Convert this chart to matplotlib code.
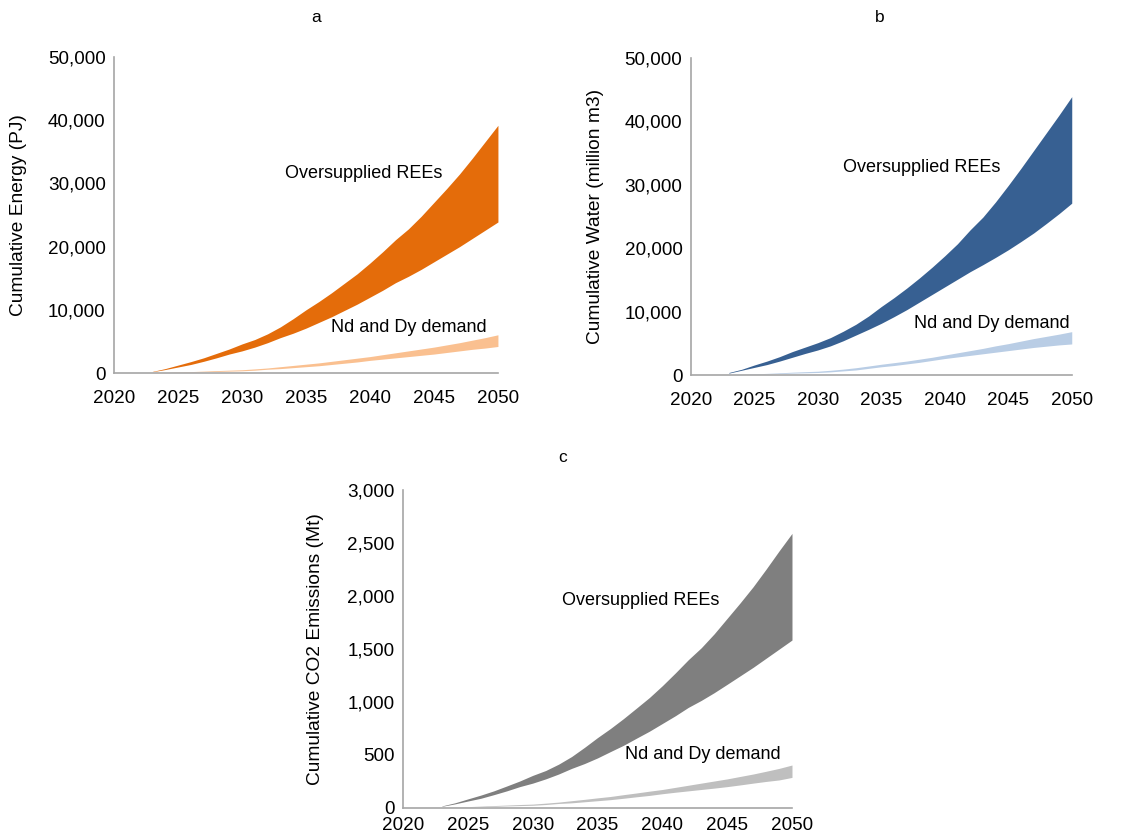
import matplotlib.pyplot as plt
from matplotlib.ticker import FuncFormatter

plt.rcParams['font.family'] = ['Liberation Sans', 'DejaVu Sans']

years = list(range(2023, 2051))

# cumulative energy (PJ)
energy_over_hi = [250, 700, 1250, 1800, 2400, 3100, 3800, 4600, 5300, 6200,
                  7300, 8600, 10000, 11300, 12700, 14200, 15700, 17400, 19200, 21100,
                  22800, 24800, 27000, 29200, 31500, 34000, 36600, 39200]
energy_over_lo = [200, 550, 950, 1350, 1850, 2400, 3000, 3500, 4100, 4800,
                  5600, 6300, 7100, 8000, 8900, 9900, 10900, 12000, 13100, 14300,
                  15300, 16400, 17600, 18800, 20000, 21300, 22600, 23900]
energy_nd_hi = [30, 80, 150, 220, 300, 380, 450, 520, 650, 800,
                1000, 1200, 1400, 1600, 1850, 2100, 2350, 2600, 2900, 3200,
                3500, 3800, 4100, 4450, 4800, 5200, 5600, 6050]
energy_nd_lo = [20, 50, 100, 150, 200, 250, 300, 350, 450, 600,
                700, 850, 1000, 1150, 1350, 1550, 1750, 2000, 2200, 2400,
                2600, 2800, 3000, 3250, 3500, 3750, 3950, 4200]

# cumulative water (million m3)
water_over_hi = [400, 900, 1580, 2200, 2900, 3700, 4400, 5100, 5900, 6900,
                 8000, 9300, 10800, 12200, 13700, 15300, 17000, 18800, 20700, 22900,
                 24900, 27300, 29900, 32600, 35400, 38200, 41000, 43900]
water_over_lo = [300, 750, 1200, 1650, 2200, 2800, 3400, 3950, 4600, 5400,
                 6300, 7200, 8150, 9200, 10300, 11500, 12700, 13900, 15100, 16300,
                 17400, 18550, 19750, 21050, 22400, 23900, 25450, 27100]
water_nd_hi = [40, 100, 180, 260, 350, 450, 530, 600, 750, 930,
               1150, 1420, 1700, 1950, 2200, 2500, 2800, 3150, 3500, 3850,
               4200, 4600, 4950, 5350, 5750, 6100, 6450, 6840]
water_nd_lo = [25, 60, 120, 180, 240, 300, 350, 400, 500, 650,
               800, 1050, 1300, 1500, 1750, 2000, 2300, 2600, 2850, 3100,
               3350, 3600, 3850, 4100, 4350, 4550, 4750, 4900]

# cumulative CO2 emissions (Mt)
co2_over_hi = [17, 46, 83, 119, 159, 205, 252, 305, 351, 411,
               483, 570, 662, 748, 841, 940, 1040, 1152, 1272, 1397,
               1510, 1642, 1788, 1934, 2086, 2252, 2424, 2590]
co2_over_lo = [13, 36, 63, 89, 123, 159, 199, 232, 272, 318,
               371, 417, 470, 530, 589, 656, 722, 795, 868, 947,
               1013, 1086, 1165, 1245, 1325, 1411, 1497, 1583]
co2_nd_hi = [2, 5, 10, 15, 20, 25, 30, 34, 43, 53,
             66, 79, 93, 106, 123, 139, 156, 172, 192, 212,
             232, 252, 272, 295, 318, 344, 371, 403]
co2_nd_lo = [1, 3, 7, 10, 13, 17, 20, 23, 30, 40,
             46, 56, 66, 76, 89, 103, 116, 132, 146, 159,
             172, 185, 199, 215, 232, 248, 262, 286]

panels = [
    ('a', [0.1005, 0.5554, 0.3386, 0.3766], 'Cumulative Energy (PJ)',
     energy_over_lo, energy_over_hi, energy_nd_lo, energy_nd_hi,
     '#E46C0A', '#FAC090', 50000, 10000, -0.227, 12,
     (2039.5, 31640), (2043.0, 7280), (316, 18)),
    ('b', [0.6091, 0.5530, 0.3360, 0.3779], 'Cumulative Water (million m3)',
     water_over_lo, water_over_hi, water_nd_lo, water_nd_hi,
     '#376092', '#B9CDE5', 50000, 10000, -0.228, 12,
     (2038.2, 32650), (2043.7, 8200), (880, 18)),
    ('c', [0.3554, 0.0373, 0.3430, 0.3787], 'Cumulative CO2 Emissions (Mt)',
     co2_over_lo, co2_over_hi, co2_nd_lo, co2_nd_hi,
     '#7F7F7F', '#BFBFBF', 3000, 500, -0.203, 7,
     (2038.35, 1952), (2043.1, 498), (563, 457)),
]

fig = plt.figure(figsize=(11.34, 8.39), dpi=100)

for (tag, rect, ylabel, o_lo, o_hi, n_lo, n_hi, dark, light, ymax, ystep,
     labx, xpad, over_xy, nd_xy, tag_px) in panels:
    ax = fig.add_axes(rect)
    ax.fill_between(years, o_lo, o_hi, color=dark, lw=0)
    ax.fill_between(years, n_lo, n_hi, color=light, lw=0)

    ax.set_xlim(2020, 2050)
    ax.set_ylim(0, ymax)
    ax.set_xticks(range(2020, 2051, 5))
    ax.set_yticks(range(0, ymax + 1, ystep))
    ax.yaxis.set_major_formatter(FuncFormatter(lambda v, p: '{:,.0f}'.format(v)))
    ax.tick_params(length=0, labelsize=13.6)
    ax.tick_params(axis='x', pad=xpad)
    ax.tick_params(axis='y', pad=6)

    for s in ['top', 'right']:
        ax.spines[s].set_visible(False)
    for s in ['left', 'bottom']:
        ax.spines[s].set_color('#A6A6A6')
        ax.spines[s].set_linewidth(1.2)

    ax.set_ylabel(ylabel, fontsize=13.8)
    ax.yaxis.set_label_coords(labx, 0.5)

    ax.text(over_xy[0], over_xy[1], 'Oversupplied REEs', fontsize=13,
            ha='center', va='center')
    ax.text(nd_xy[0], nd_xy[1], 'Nd and Dy demand', fontsize=13,
            ha='center', va='center')

    fig.text(tag_px[0] / 1134, 1 - tag_px[1] / 839, tag, fontsize=12.5,
             ha='center', va='center')

plt.savefig('out.png', dpi=100)
